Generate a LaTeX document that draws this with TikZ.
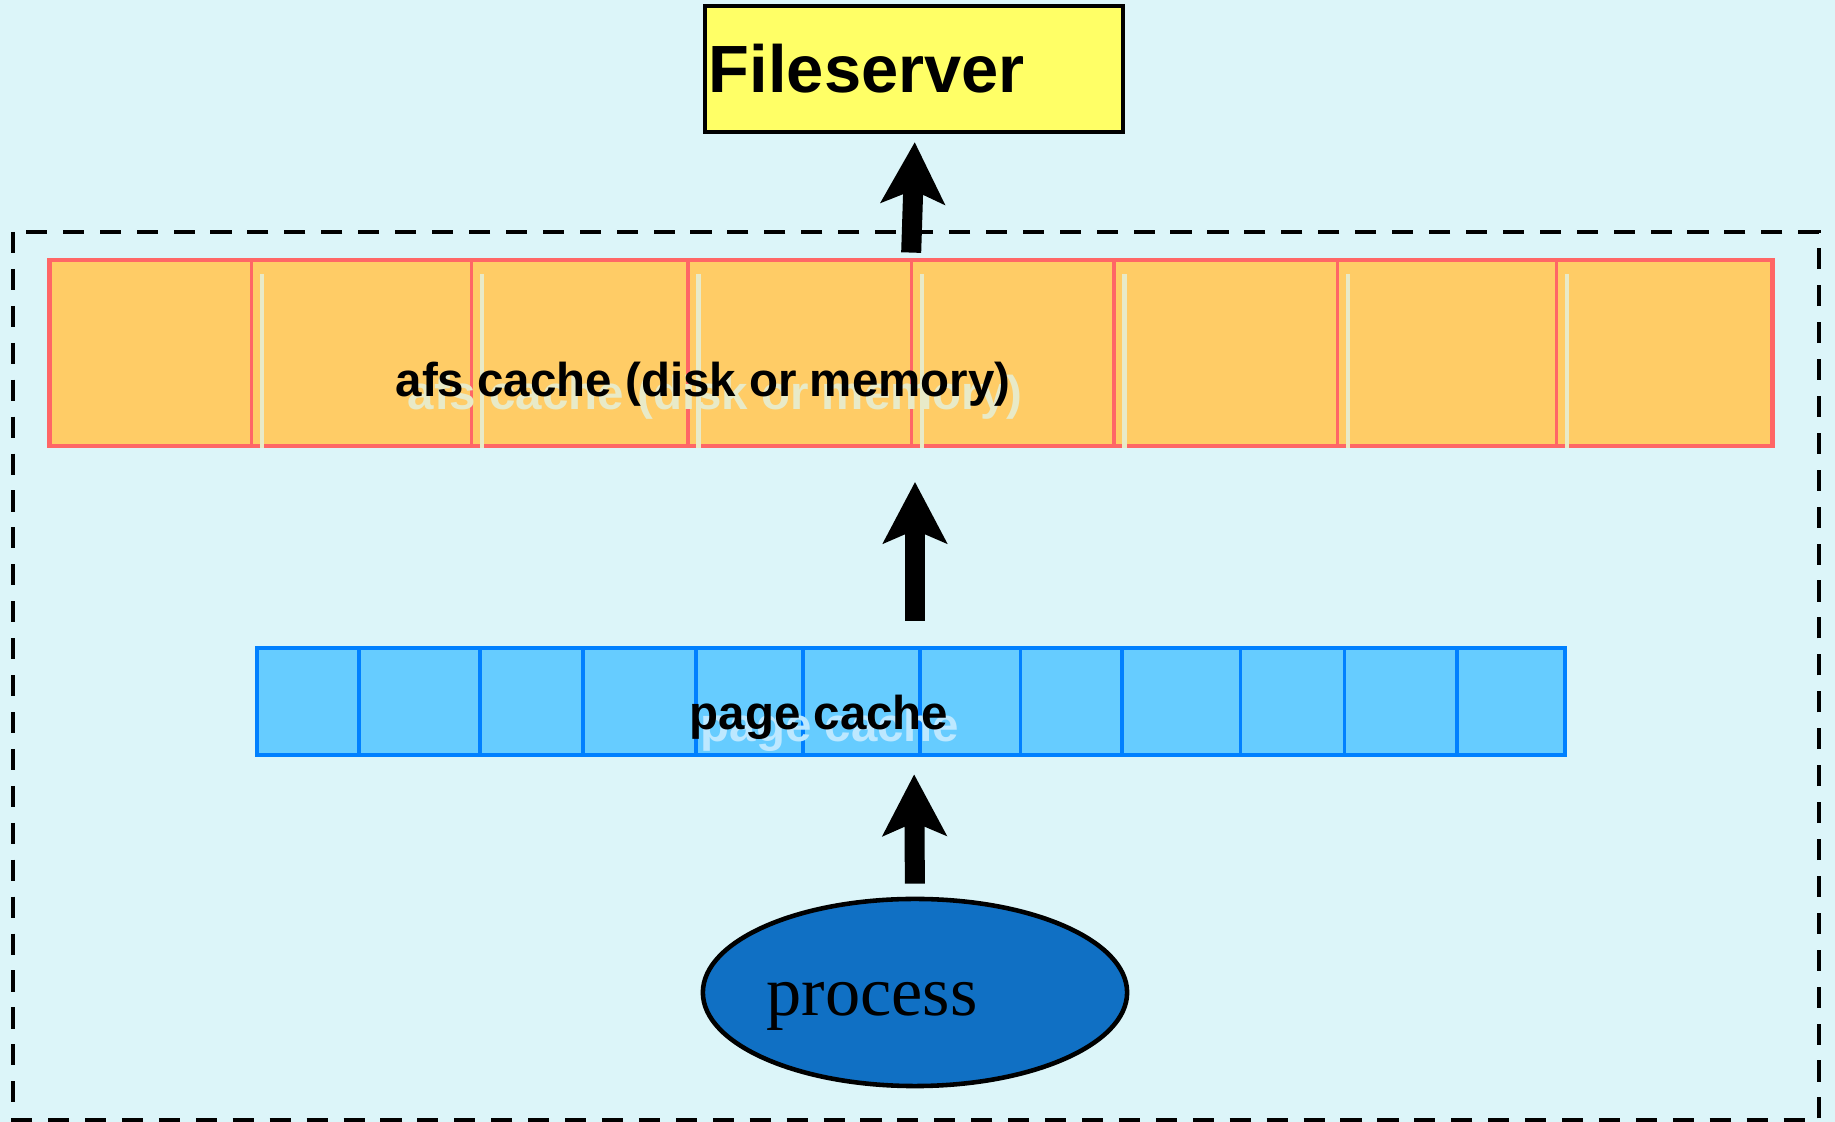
\documentclass[tikz,border=0pt]{standalone}
\usepackage{fontspec}
\setmainfont{Liberation Serif}
\newfontfamily\labelfont{Liberation Sans}
\usetikzlibrary{arrows.meta,shapes.geometric}

\definecolor{bgcyan}{HTML}{DCF5F9}
\definecolor{fsyellow}{HTML}{FFFF66}
\definecolor{afsfill}{HTML}{FFCC66}
\definecolor{afsline}{HTML}{FF6666}
\definecolor{pagefill}{HTML}{66CCFF}
\definecolor{pageline}{HTML}{0080FF}
\definecolor{procblue}{HTML}{1070C4}
\definecolor{paleafs}{HTML}{E8EAC8}
\definecolor{palepage}{HTML}{BDE8FF}

\tikzset{
  bigarrow/.style={line width=0.2cm, -{Stealth[length=0.61cm,width=0.63cm,inset=0.13cm]}},
  cachelabel/.style={inner sep=0pt, anchor=base west, font=\labelfont\bfseries\fontsize{13.5pt}{16pt}\selectfont},
}

\begin{document}
\begin{tikzpicture}[x=0.01cm,y=-0.01cm]
    % Background
    \fill[bgcyan] (0,0) rectangle (1835,1122);
    \useasboundingbox (0,0) rectangle (1835,1122);

    % Client machine (dashed frame)
    \draw[line width=1.4pt, dash pattern=on 6pt off 4.5pt] (13,232) rectangle (1819,1120);

    % Fileserver
    \node[draw, line width=1.2pt, fill=fsyellow, text width=4.1cm, inner xsep=0.04cm,
          minimum height=1.26cm, align=left,
          font=\labelfont\bfseries\fontsize{19pt}{22pt}\selectfont] (fs) at (914,69) {Fileserver};

    % afs cache
    \node[draw=afsline, line width=1.2pt, fill=afsfill, minimum width=17.22cm,
          minimum height=1.855cm, inner sep=0pt] (afs) at (911,353) {};
    \foreach \x in {251.6,471.6,688,911.7,1114,1337.6,1556.5} {
        \draw[afsline, line width=0.9pt] (\x,260.5) -- (\x,446);
        \draw[paleafs, line width=1.2pt] (\x+10.5,274) -- (\x+10.5,448);
    }
    \node[cachelabel, paleafs] (afsghost) at (407,410) {afs cache (disk or memory)};
    \node[cachelabel] (afslabel) at (395,397) {afs cache (disk or memory)};

    % page cache
    \node[draw=pageline, line width=1.3pt, fill=pagefill, minimum width=13.07cm,
          minimum height=1.07cm, inner sep=0pt] (page) at (911,701.5) {};
    \foreach \x in {359,480,583,696,803,920,1020.5,1122,1240.5,1344.6,1457}
        \draw[pageline, line width=0.9pt] (\x,648) -- (\x,755);
    \node[cachelabel, palepage] (pageghost) at (700,742) {page cache};
    \node[cachelabel] (pagelabel) at (689,730) {page cache};

    % process
    \node[draw, ellipse, line width=1.3pt, fill=procblue, minimum width=4.24cm,
          minimum height=1.87cm, inner sep=0pt] (proc) at (915,992.5) {};
    \node[inner sep=0pt, anchor=base west, font=\fontsize{20pt}{24pt}\selectfont] (proclabel) at (766,1016) {process};

    % Arrows
    \draw[bigarrow, shorten <=0.055cm, shorten >=0.08cm] ([xshift=0.0cm]afs.north) -- ([xshift=0.01cm]fs.south);
    \draw[bigarrow, shorten <=0.25cm, shorten >=0.34cm] ([xshift=0.04cm]page.north) -- ([xshift=0.04cm]afs.south);
    \draw[bigarrow, shorten <=0.13cm, shorten >=0.17cm] (proc.north) -- ([xshift=0.03cm]page.south);
\end{tikzpicture}
\end{document}
